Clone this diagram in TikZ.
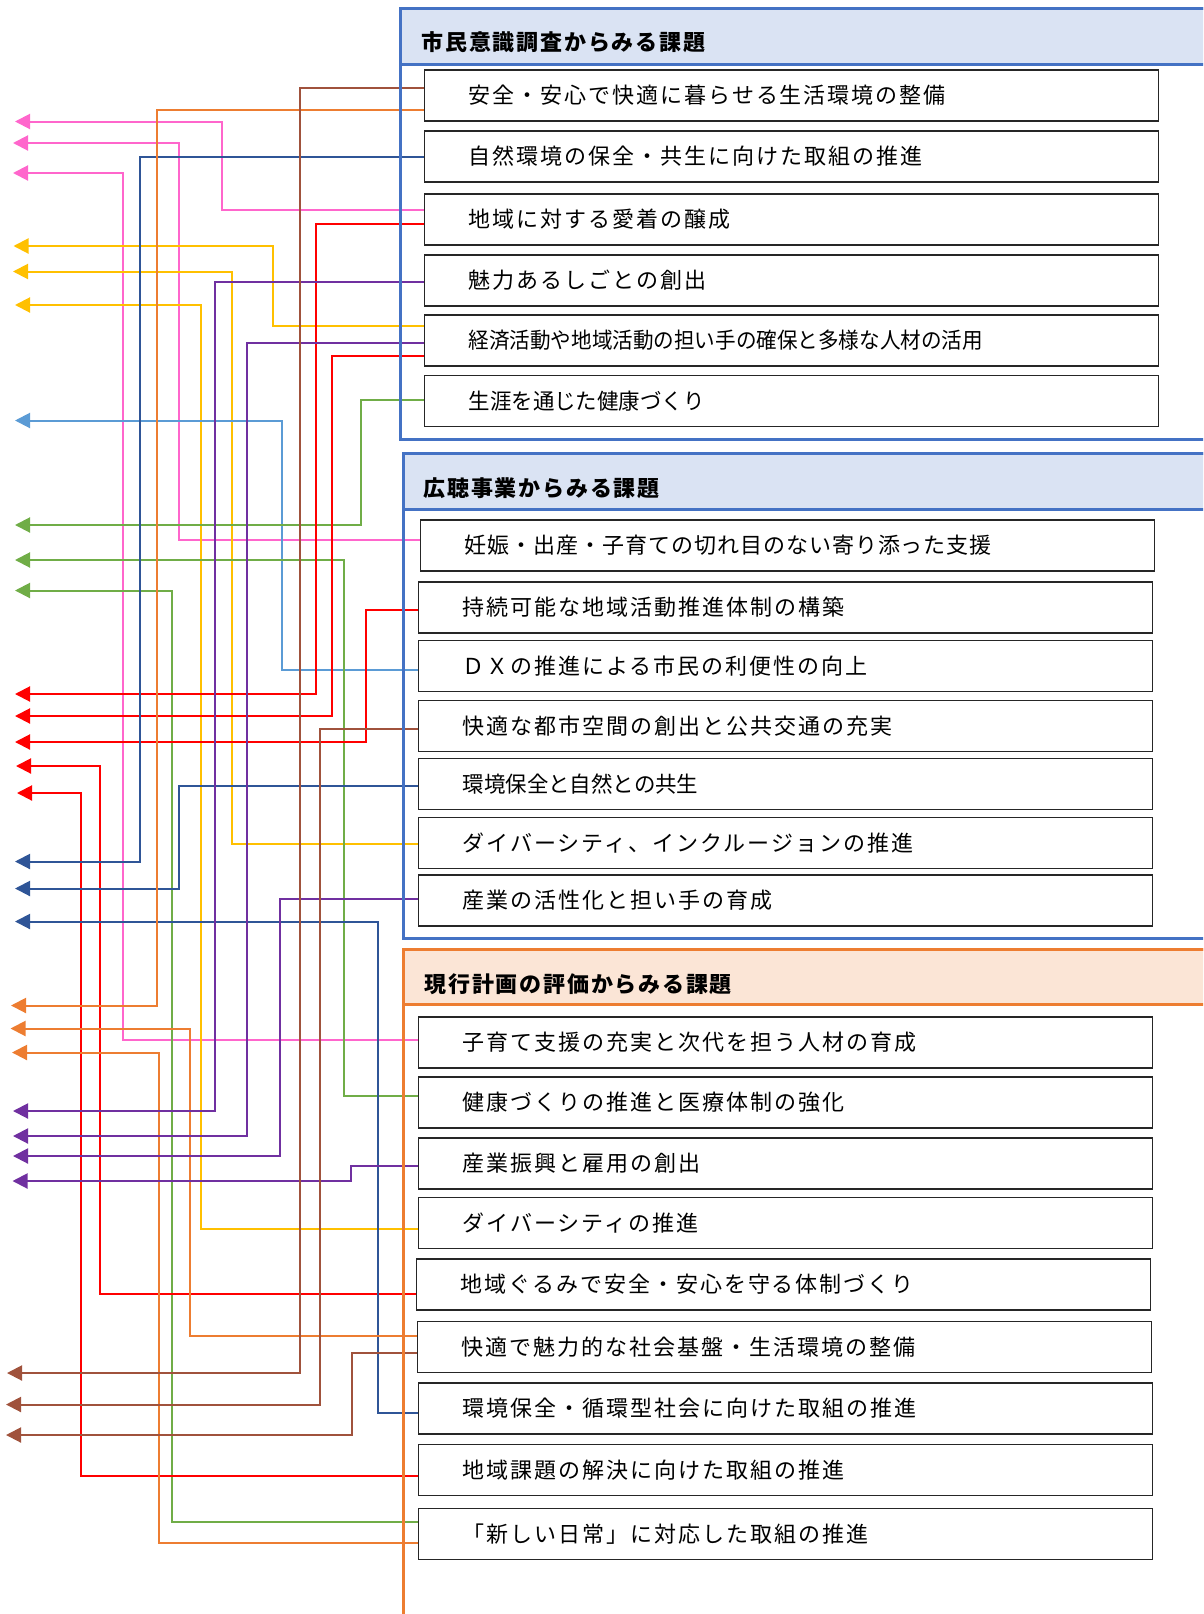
\documentclass[tikz,border=0pt]{standalone}
\usepackage{fontspec}
\setmainfont{Noto Sans CJK JP}
\newfontfamily\jpA[LetterSpace=9]{Noto Sans CJK JP}
\newfontfamily\jpB[LetterSpace=4.5]{Noto Sans CJK JP}
\newfontfamily\jpC[FakeStretch=0.975]{Noto Sans CJK JP}
\newfontfamily\jpD[FakeStretch=0.935]{Noto Sans CJK JP}
\newfontfamily\jpT[LetterSpace=8]{Noto Sans CJK JP}
\usepackage{xcolor}
\usepackage{tikz}
\usetikzlibrary{arrows.meta}

\definecolor{pinkln}{HTML}{FF66CC}
\definecolor{yellowln}{HTML}{FFC000}
\definecolor{skyln}{HTML}{5B9BD5}
\definecolor{greenln}{HTML}{70AD47}
\definecolor{redln}{HTML}{FF0000}
\definecolor{navyln}{HTML}{2F5597}
\definecolor{orangeln}{HTML}{ED7D31}
\definecolor{purpleln}{HTML}{7030A0}
\definecolor{brownln}{HTML}{A0523C}
\definecolor{secblue}{HTML}{4472C4}
\definecolor{hdrblue}{HTML}{DAE3F3}
\definecolor{hdrorange}{HTML}{FBE5D6}

\begin{document}
\begin{tikzpicture}[x=1pt, y=-1pt,
  item/.style={draw=black!85, line width=1.4pt, fill=white, anchor=west,
    minimum height=51pt, text width=646pt, inner xsep=44pt, inner ysep=0pt,
    align=left, font=\fontsize{22}{26}\selectfont},
  conn/.style={line width=2pt, -{Triangle[length=15pt, width=15pt]}},
  title/.style={anchor=west, inner sep=0pt, font=\jpT\bfseries\fontsize{22}{26}\selectfont},
  frame/.style={line width=3pt}]
  \useasboundingbox (0,0) rectangle (1203,1614);
  \clip (0,0) rectangle (1203,1614);

  % Items: citizen survey
  \foreach \nm/\x/\y/\fnt/\txt in {
    sa/424/95.5/\jpA/安全・安心で快適に暮らせる生活環境の整備,
    sb/424/156.5/\jpA/自然環境の保全・共生に向けた取組の推進,
    sc/424/219.5/\jpA/地域に対する愛着の醸成,
    sd/424/280.5/\jpA/魅力あるしごとの創出,
    se/424/340.5/\jpD/経済活動や地域活動の担い手の確保と多様な人材の活用,
    sf/424/401/\jpC/生涯を通じた健康づくり} {
    \node[item] (\nm) at (\x,\y) {\fnt \txt};
  }

  % Items: public hearing
  \foreach \nm/\x/\y/\fnt/\txt in {
    ka/419.5/545.5/\jpB/妊娠・出産・子育ての切れ目のない寄り添った支援,
    kb/418/607.5/\jpA/持続可能な地域活動推進体制の構築,
    kc/418/666/\jpA/ＤＸの推進による市民の利便性の向上,
    kd/418/726/\jpA/快適な都市空間の創出と公共交通の充実,
    ke/418/784/\jpC/環境保全と自然との共生,
    kf/418/843/\jpA/ダイバーシティ、インクルージョンの推進,
    kg/418/900.5/\jpA/産業の活性化と担い手の育成} {
    \node[item] (\nm) at (\x,\y) {\fnt \txt};
  }

  % Items: current plan evaluation
  \foreach \nm/\x/\y/\fnt/\txt in {
    ga/418/1042.5/\jpA/子育て支援の充実と次代を担う人材の育成,
    gb/418/1102.5/\jpA/健康づくりの推進と医療体制の強化,
    gc/418/1163.3/\jpA/産業振興と雇用の創出,
    gd/418/1222.8/\jpA/ダイバーシティの推進,
    ge/416/1284.5/\jpA/地域ぐるみで安全・安心を守る体制づくり,
    gf/417/1346.7/\jpA/快適で魅力的な社会基盤・生活環境の整備,
    gg/418/1408.4/\jpA/環境保全・循環型社会に向けた取組の推進,
    gh/418/1470/\jpA/地域課題の解決に向けた取組の推進,
    gi/418/1533.7/\jpA/「新しい日常」に対応した取組の推進} {
    \node[item] (\nm) at (\x,\y) {\fnt \txt};
  }

  % Connectors to the left
  \foreach \src/\dy/\vx/\ay/\tip/\col [count=\i] in {
    sc/-10/221.5/121.5/15/pinkln,
    ka/-5.5/179/143/13/pinkln,
    ga/-3/122.5/173/13/pinkln,
    se/-14.5/273/246/13.5/yellowln,
    kf/1/231.5/271.5/13/yellowln,
    gd/6.5/201/305/15/yellowln,
    kc/3.5/282/420.5/15/skyln,
    sf/-1/361/525/15/greenln,
    gb/-6.5/344/560/15/greenln,
    gi/-12/172/590.5/15/greenln,
    sc/4.5/316/694/15/redln,
    se/15.5/331.5/716/15/redln,
    kb/2.5/365.5/742/15/redln,
    ge/9/99.5/766/16/redln,
    gh/5.5/81/793/17/redln,
    sb/0.5/140/861.5/15/navyln,
    ke/2/178.5/888.5/15/navyln,
    gg/4.5/377.5/921.5/15/navyln,
    sa/14/157/1005.5/11/orangeln,
    gf/-10.5/189.5/1028.5/10.5/orangeln,
    gi/9.5/158.5/1052.5/12/orangeln,
    sd/1/214.5/1111/13/purpleln,
    se/2/247/1136/13/purpleln,
    kg/-1.5/280/1156/13/purpleln,
    gc/3/351/1181/12.5/purpleln,
    sa/-8/300/1373/7/brownln,
    kd/2.7/320/1404.5/6/brownln,
    gf/6.5/352/1435/6/brownln} {
    \coordinate (tip\i) at (\tip,\ay);
    \draw[conn, color=\col] (\src.west) ++(0,\dy) -| (\vx,\ay) -- (tip\i);
  }

  % Section frames
  \draw[frame, secblue, fill=hdrblue] (400.5,8.5) rectangle (1215,64.5);
  \draw[frame, secblue] (400.5,8.5) rectangle (1215,439.5);
  \draw[frame, secblue, fill=hdrblue] (403,453.5) rectangle (1215,509.5);
  \draw[frame, secblue] (403,453.5) rectangle (1215,938.5);
  \draw[frame, orangeln, fill=hdrorange] (403,949) rectangle (1215,1004.5);
  \draw[frame, orangeln] (403,949) rectangle (1215,1640);

  % Titles
  \node[title] (t1) at (421.5,42.5) {市民意識調査からみる課題};
  \node[title] (t2) at (423.5,488) {広聴事業からみる課題};
  \node[title] (t3) at (424.5,984) {現行計画の評価からみる課題};
\end{tikzpicture}
\end{document}
